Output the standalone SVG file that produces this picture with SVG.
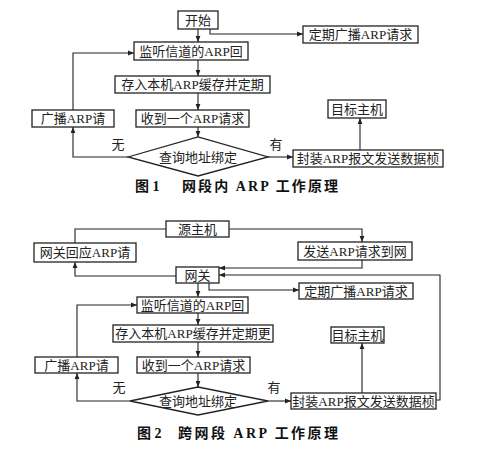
<svg xmlns="http://www.w3.org/2000/svg" width="500" height="455" viewBox="0 0 500 455">
<defs>
<marker id="ah" viewBox="0 0 10 10" refX="10" refY="5" markerWidth="6" markerHeight="6" markerUnits="userSpaceOnUse" orient="auto">
<path d="M0,1 L10,5 L0,9 Z" fill="#222"/>
</marker>
<style>
.b{fill:#fff;stroke:#222;stroke-width:1.3}
.t{font-family:"Liberation Serif","Noto Sans CJK SC",serif;font-size:13px;fill:#222;text-anchor:middle}
.l{font-family:"Liberation Serif","Noto Sans CJK SC",serif;font-size:13px;fill:#222;text-anchor:middle}
.c{font-family:"Liberation Serif","Noto Sans CJK SC",sans-serif;font-size:14px;font-weight:bold;fill:#111}
.e path{fill:none;stroke:#222;stroke-width:1.1}
.a{marker-end:url(#ah)}
</style>
</defs>
<rect width="500" height="455" fill="#fff"/>

<!-- Figure 1 -->
<g class="e" id="connectors1">
<path class="a" d="M198 29 V42"/>
<path class="a" d="M210 29 V34 H303"/>
<path class="a" d="M198 60 V76"/>
<path class="a" d="M198 93 V110"/>
<path class="a" d="M198 127 V137"/>
<path class="a" d="M128 157 H73 V127"/>
<path class="a" d="M73 110 V53 H134"/>
<path class="a" d="M268 157 H293"/>
<path class="a" d="M360 150 V118"/>
</g>
<g id="f1-start"><rect class="b" x="178" y="11" width="40" height="18"/><text class="t" x="198" y="24.5">开始</text></g>
<g id="f1-periodic"><rect class="b" x="303" y="26" width="115" height="17"/><text class="t" x="360.5" y="39">定期广播ARP请求</text></g>
<g id="f1-listen"><rect class="b" x="134" y="42" width="114" height="18"/><text class="t" x="191" y="55.5">监听信道的ARP回</text></g>
<g id="f1-store"><rect class="b" x="115" y="76" width="155" height="17"/><text class="t" x="192.5" y="89">存入本机ARP缓存并定期</text></g>
<g id="f1-receive"><rect class="b" x="136" y="110" width="113" height="17"/><text class="t" x="192.5" y="123">收到一个ARP请求</text></g>
<g id="f1-broadcast"><rect class="b" x="32" y="110" width="82" height="17"/><text class="t" x="73" y="123">广播ARP请</text></g>
<g id="f1-query"><polygon class="b" points="128,157 198,137 268,157 198,176"/><text class="t" x="198" y="161.5">查询地址绑定</text></g>
<g id="f1-encap"><rect class="b" x="293" y="150" width="150" height="17"/><text class="t" x="368" y="163">封装ARP报文发送数据桢</text></g>
<g id="f1-target"><rect class="b" x="328" y="100" width="58" height="18"/><text class="t" x="357" y="113.5">目标主机</text></g>
<text class="l" x="118" y="149">无</text>
<text class="l" x="276" y="149">有</text>
<text class="c" x="135" y="191">图 1</text>
<text class="c" x="182" y="191" textLength="156" lengthAdjust="spacing">网段内 ARP 工作原理</text>

<!-- Figure 2 -->
<g class="e" id="connectors2">
<path d="M166 229 H75 V243"/>
<path class="a" d="M176 276 H75 V262"/>
<path class="a" d="M229 229 H362 V242"/>
<path class="a" d="M362 260 V268 H219"/>
<path class="a" d="M436 400 H440 V275 H219"/>
<path class="a" d="M209 283 V290 H299"/>
<path class="a" d="M198 283 V297"/>
<path class="a" d="M198 313 V325"/>
<path class="a" d="M198 342 V357"/>
<path class="a" d="M198 373 V387"/>
<path class="a" d="M130 401 H77 V373"/>
<path class="a" d="M77 357 V305 H137"/>
<path class="a" d="M268 401 H291"/>
<path class="a" d="M362 393 V343"/>
</g>
<g id="f2-source"><rect class="b" x="166" y="221" width="63" height="16"/><text class="t" x="197.5" y="233.5">源主机</text></g>
<g id="f2-gwreply"><rect class="b" x="34" y="243" width="102" height="19"/><text class="t" x="85" y="257">网关回应ARP请</text></g>
<g id="f2-send"><rect class="b" x="298" y="242" width="114" height="18"/><text class="t" x="355" y="255.5">发送ARP请求到网</text></g>
<g id="f2-gateway"><rect class="b" x="176" y="267" width="43" height="16"/><text class="t" x="197.5" y="279.5">网关</text></g>
<g id="f2-periodic"><rect class="b" x="299" y="283" width="114" height="16"/><text class="t" x="356" y="295.5">定期广播ARP请求</text></g>
<g id="f2-listen"><rect class="b" x="137" y="297" width="111" height="16"/><text class="t" x="192.5" y="309.5">监听信道的ARP回</text></g>
<g id="f2-store"><rect class="b" x="113" y="325" width="160" height="17"/><text class="t" x="193" y="338">存入本机ARP缓存并定期更</text></g>
<g id="f2-target"><rect class="b" x="331" y="327" width="53" height="16"/><text class="t" x="357.5" y="339.5">目标主机</text></g>
<g id="f2-receive"><rect class="b" x="137" y="357" width="113" height="16"/><text class="t" x="193.5" y="369.5">收到一个ARP请求</text></g>
<g id="f2-broadcast"><rect class="b" x="35" y="357" width="83" height="16"/><text class="t" x="76.5" y="369.5">广播ARP请</text></g>
<g id="f2-query"><polygon class="b" points="130,401 198,387 268,401 198,415"/><text class="t" x="198" y="405.5">查询地址绑定</text></g>
<g id="f2-encap"><rect class="b" x="291" y="393" width="145" height="16"/><text class="t" x="363.5" y="405.5">封装ARP报文发送数据桢</text></g>
<text class="l" x="119" y="392">无</text>
<text class="l" x="274" y="392">有</text>
<text class="c" x="137" y="438">图 2</text>
<text class="c" x="178" y="438" textLength="160" lengthAdjust="spacing">跨网段 ARP 工作原理</text>
</svg>
